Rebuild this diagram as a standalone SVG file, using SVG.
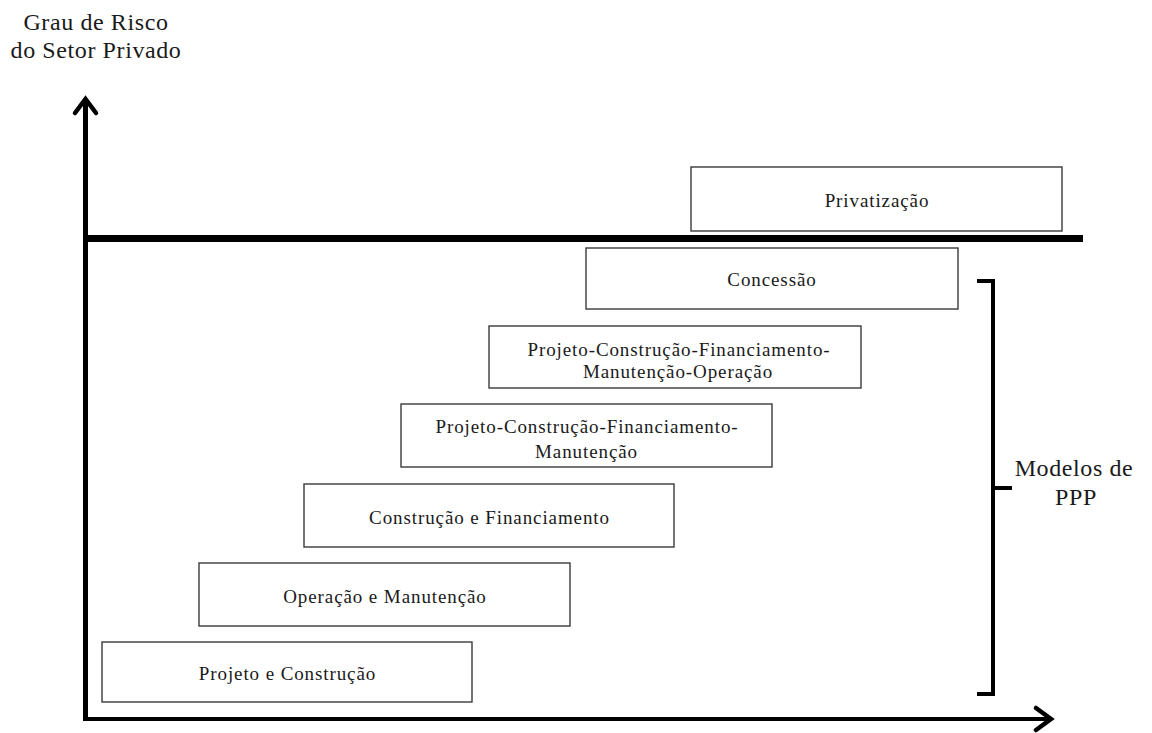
<svg xmlns="http://www.w3.org/2000/svg" width="1152" height="733" viewBox="0 0 1152 733">
<style>
.box{fill:#fff;stroke:#3a3a3a;stroke-width:1.4}
.t{font-family:"Liberation Serif","Times New Roman","DejaVu Serif",serif;font-size:19px;letter-spacing:0.9px;fill:#1a1a1a;text-anchor:middle}
.big{font-family:"Liberation Serif","Times New Roman","DejaVu Serif",serif;font-size:24px;letter-spacing:0.6px;fill:#1a1a1a;text-anchor:middle}
.ax{fill:none;stroke:#000;stroke-linecap:butt}
.head{fill:none;stroke:#000;stroke-width:4.5;stroke-linecap:round;stroke-linejoin:miter}
</style>
<rect width="1152" height="733" fill="#fff"/>
<g id="axis-label">
<text class="big" x="96" y="30">Grau de Risco</text>
<text class="big" x="96" y="58">do Setor Privado</text>
</g>
<g id="connectors">
<line class="ax" x1="85.5" y1="100" x2="85.5" y2="721" stroke-width="5"/>
<polyline class="head" points="75,113 85.5,99 96,113"/>
<line class="ax" x1="83" y1="719" x2="1050" y2="719" stroke-width="4"/>
<polyline class="head" points="1036,708 1051,719 1036,730"/>
<line class="ax" x1="85" y1="238.5" x2="1083" y2="238.5" stroke-width="7"/>
<polyline class="ax" points="977,281 993,281 993,694 977,694" stroke-width="4"/>
<line class="ax" x1="993" y1="488" x2="1012" y2="488" stroke-width="4"/>
</g>
<g id="privatizacao">
<rect class="box" x="691" y="167" width="371" height="64"/>
<text class="t" x="877" y="207">Privatização</text>
</g>
<g id="concessao">
<rect class="box" x="586" y="248" width="372" height="61"/>
<text class="t" x="772" y="286">Concessão</text>
</g>
<g id="pcfmo">
<rect class="box" x="489" y="326" width="372" height="62"/>
<text class="t" x="679" y="356">Projeto-Construção-Financiamento-</text>
<text class="t" x="678" y="378">Manutenção-Operação</text>
</g>
<g id="pcfm">
<rect class="box" x="401" y="404" width="371" height="63"/>
<text class="t" x="587" y="433">Projeto-Construção-Financiamento-</text>
<text class="t" x="586.5" y="458">Manutenção</text>
</g>
<g id="cf">
<rect class="box" x="304" y="484" width="370" height="63"/>
<text class="t" x="489.5" y="524">Construção  e Financiamento</text>
</g>
<g id="om">
<rect class="box" x="199" y="563" width="371" height="63"/>
<text class="t" x="385" y="603">Operação e Manutenção</text>
</g>
<g id="pc">
<rect class="box" x="102" y="642" width="370" height="60"/>
<text class="t" x="287.5" y="680">Projeto e Construção</text>
</g>
<g id="modelos">
<text class="big" x="1074" y="476">Modelos de</text>
<text class="big" x="1076" y="505">PPP</text>
</g>
</svg>
